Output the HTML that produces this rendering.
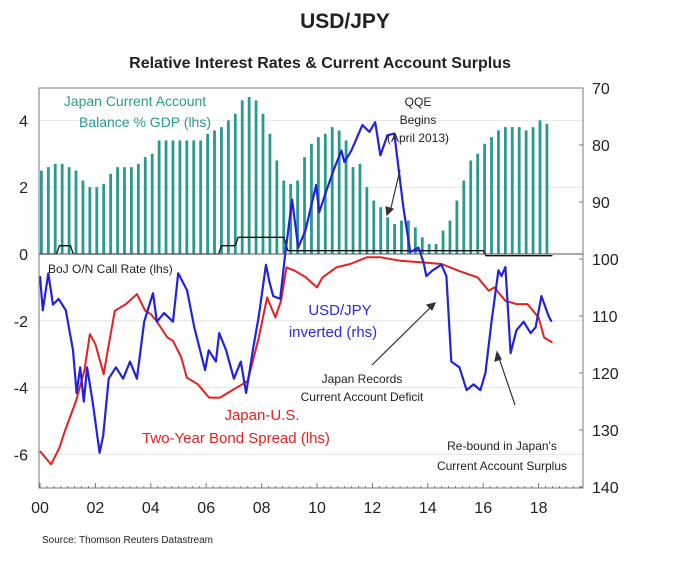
<!DOCTYPE html>
<html><head><meta charset="utf-8"><style>
body{margin:0;background:#fff;width:680px;height:571px;overflow:hidden;font-family:"Liberation Sans",sans-serif}
svg text{font-family:"Liberation Sans",sans-serif}
</style></head><body>
<svg id="chart" width="680" height="571">
<text x="345" y="28" text-anchor="middle" font-size="21" font-weight="bold" fill="#222">USD/JPY</text>
<text x="320" y="68" text-anchor="middle" font-size="16" font-weight="bold" fill="#222">Relative Interest Rates &amp; Current Account Surplus</text>
<g id="grid"></g><g id="bars"></g><g id="lines"></g><g id="axes"></g>
<g id="notes" font-size="12" fill="#222">
<text x="135" y="106" text-anchor="middle" font-size="14" fill="#2a9a8e">Japan Current Account</text>
<text x="145" y="127" text-anchor="middle" font-size="14" fill="#2a9a8e">Balance % GDP (lhs)</text>
<text x="48" y="273" font-size="12" fill="#222">BoJ O/N Call Rate (lhs)</text>
<text x="340" y="315" text-anchor="middle" font-size="15" fill="#2a2ae0">USD/JPY</text>
<text x="333" y="337" text-anchor="middle" font-size="15" fill="#2a2ae0">inverted (rhs)</text>
<text x="262" y="420" text-anchor="middle" font-size="15" fill="#e52020">Japan-U.S.</text>
<text x="236" y="443" text-anchor="middle" font-size="15" fill="#e52020">Two-Year Bond Spread (lhs)</text>
<text x="418" y="106" text-anchor="middle">QQE</text>
<text x="418" y="124" text-anchor="middle">Begins</text>
<text x="418" y="142" text-anchor="middle">(April 2013)</text>
<text x="362" y="383" text-anchor="middle">Japan Records</text>
<text x="362" y="401" text-anchor="middle">Current Account Deficit</text>
<text x="502" y="450" text-anchor="middle">Re-bound in Japan's</text>
<text x="502" y="470" text-anchor="middle">Current Account Surplus</text>
<g stroke="#333" stroke-width="1.2" fill="#333">
<line x1="400" y1="170" x2="390" y2="212"/><polygon points="387,215 386,207 393,209"/>
<line x1="372" y1="365" x2="433" y2="305"/><polygon points="435,303 427,305 432,310"/>
<line x1="515" y1="405" x2="498" y2="355"/><polygon points="497,352 495,361 501,359"/>
</g></g>
<text x="42" y="543" font-size="10" fill="#222">Source: Thomson Reuters Datastream</text>
</svg>
<script>
const barValues=[2.5,2.6,2.7,2.7,2.6,2.5,2.2,2.0,2.0,2.1,2.4,2.6,2.6,2.6,2.7,2.9,3.0,3.4,3.4,3.4,3.4,3.4,3.4,3.4,3.6,3.7,3.8,4.0,4.2,4.6,4.7,4.6,4.2,3.6,2.8,2.2,2.1,2.2,2.9,3.3,3.5,3.6,3.8,3.7,3.4,2.6,2.7,2.0,1.6,1.4,1.1,0.9,1.0,1.0,0.8,0.5,0.3,0.3,0.7,1.0,1.6,2.2,2.8,3.0,3.3,3.5,3.7,3.8,3.8,3.8,3.7,3.8,4.0,3.9];
const bojYears=[0,0.6,0.7,1.1,1.2,6.45,6.55,7.05,7.15,8.8,8.95,16.0,16.1,18.5];
const bojRates=[0,0,0.25,0.25,0,0,0.25,0.25,0.5,0.5,0.1,0.1,-0.05,-0.05];
const spreadYears=[0,0.4,0.7,0.9,1.3,1.6,1.8,2.0,2.3,2.4,2.7,3.1,3.5,3.8,4.0,4.2,4.6,4.8,5.1,5.3,5.7,6.1,6.5,6.9,7.3,7.5,7.9,8.2,8.5,8.7,8.9,9.2,9.6,10.0,10.2,10.7,11.2,11.8,12.3,13.0,13.8,14.5,15.1,15.8,16.2,16.4,16.8,17.2,17.6,18.0,18.2,18.5];
const spreadValues=[-5.9,-6.3,-5.8,-5.3,-4.4,-3.5,-2.4,-2.7,-3.6,-3.1,-1.7,-1.5,-1.2,-1.7,-1.8,-2.0,-2.5,-2.6,-3.1,-3.7,-3.9,-4.3,-4.3,-4.1,-3.9,-3.8,-2.5,-1.3,-1.9,-1.4,-0.4,-0.5,-0.7,-1.0,-0.7,-0.4,-0.3,-0.1,-0.1,-0.2,-0.25,-0.3,-0.5,-0.7,-1.1,-1.0,-1.4,-1.5,-1.5,-1.9,-2.5,-2.65];
const fxYears=[0,0.1,0.3,0.47,0.67,0.93,1.19,1.32,1.45,1.58,1.7,1.9,2.15,2.28,2.48,2.74,3.0,3.25,3.5,3.76,4.08,4.22,4.48,4.8,4.99,5.31,5.57,5.96,6.09,6.35,6.47,6.72,7.0,7.25,7.44,7.7,7.9,8.16,8.28,8.42,8.67,8.85,9.1,9.32,9.58,9.97,10.08,10.34,10.63,10.88,10.99,11.24,11.64,11.89,12.1,12.29,12.54,12.79,13.12,13.37,13.66,13.84,13.95,14.17,14.49,14.67,14.85,15.14,15.4,15.65,15.9,16.08,16.3,16.41,16.55,16.66,16.8,16.99,17.2,17.46,17.71,17.89,18.1,18.36,18.47];
const fxValues=[103,109,102.5,108,107,109,116,123.5,119,125,119,125,134,131,121,119,121,118,121,111,106,111,109.5,111,102.5,105.5,112,119.5,116,118,113,116,121,118,123.5,115.5,110,101,104,106.5,107,99.3,89.6,98,95,87,91.8,88,84,81,83,81,76.5,77.7,76,81.8,78.3,78,91,98.8,98,100.5,103,102,101,103,118,119,123,122,123,120,111,107,102,103,101.4,116.5,112.5,111,113,112,106.5,110,111];
const leftTicks=[4,2,0,-2,-4,-6];
const rightTicks=[70,80,90,100,110,120,130,140];
const xTickYears=[0,2,4,6,8,10,12,14,16,18];
const xTickLabels=["00","02","04","06","08","10","12","14","16","18"];

const L=39,R=583,T=88,B=488;
const X=y=>40+y*27.7;
const YL=v=>254-v*33.4;
const YR=v=>259+(v-100)*5.7;
const NS="http://www.w3.org/2000/svg";
function mk(p,t,a){const e=document.createElementNS(NS,t);for(const k in a)e.setAttribute(k,a[k]);document.getElementById(p).appendChild(e);return e;}

leftTicks.forEach(v=>{if(v!==0){const g=mk('grid','line',{x1:L,x2:R,y1:YL(v),y2:YL(v),stroke:'#e4e4e4','stroke-width':1});

}});

barValues.forEach((v,i)=>{const x=X(i*0.25+0.05);const b=mk('bars','rect',{x:x-1.4,y:YL(v),width:2.8,height:YL(0)-YL(v),fill:'#2a9a8e'});

});

function path(xs,ys,fy){return xs.map((t,i)=>(i?'L':'M')+X(t).toFixed(1)+','+fy(ys[i]).toFixed(1)).join('');}
const boj=mk('lines','path',{d:path(bojYears,bojRates,YL),fill:'none',stroke:'#111','stroke-width':1.3});


const sp=mk('lines','path',{d:path(spreadYears,spreadValues,YL),fill:'none',stroke:'#e52020','stroke-width':2,'stroke-linejoin':'round'});


const fx=mk('lines','path',{d:path(fxYears,fxValues,YR),fill:'none',stroke:'#2222dd','stroke-width':2.2,'stroke-linejoin':'round'});



const box=mk('axes','rect',{x:L,y:T,width:R-L,height:B-T,fill:'none',stroke:'#777','stroke-width':1});


const z=mk('axes','line',{x1:L,x2:R,y1:YL(0),y2:YL(0),stroke:'#555','stroke-width':1});


leftTicks.forEach(v=>{const t=mk('axes','text',{x:28,y:YL(v)+6,'text-anchor':'end','font-size':16,fill:'#222'});t.textContent=v;

});
rightTicks.forEach(v=>{mk('axes','line',{x1:R,x2:R-4,y1:YR(v),y2:YR(v),stroke:'#777'});
const t=mk('axes','text',{x:592,y:YR(v)+6,'font-size':16,fill:'#222'});t.textContent=v;

});
for(let q=0;q<=78;q++){const x=X(q*0.25);if(x>R)break;mk('axes','line',{x1:x,x2:x,y1:B,y2:B-(q%8===0?5:2),stroke:'#777'});}
xTickYears.forEach((y,i)=>{const t=mk('axes','text',{x:X(y),y:513,'text-anchor':'middle','font-size':16,fill:'#222'});t.textContent=xTickLabels[i];

});
</script>
</body></html>
